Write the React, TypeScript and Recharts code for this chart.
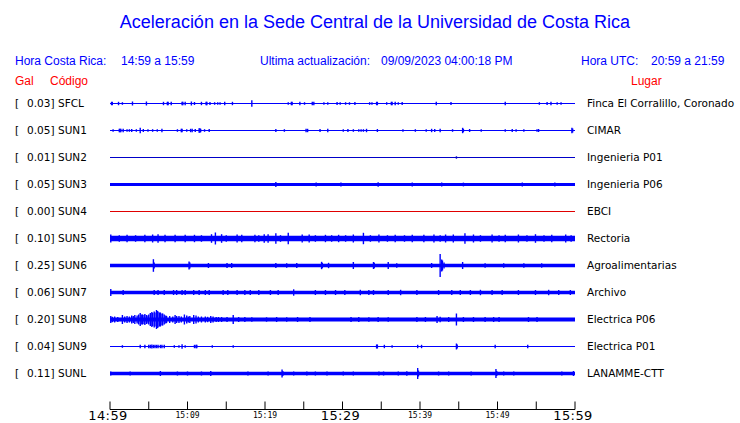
import { ComposedChart, Area, Scatter, ErrorBar, XAxis, YAxis } from "recharts";

// estaciones, de arriba hacia abajo
const stations = ["SFCL", "SUN1", "SUN2", "SUN3", "SUN4", "SUN5", "SUN6", "SUN7", "SUN8", "SUN9", "SUNL"];
const galValues = [0.03, 0.05, 0.01, 0.05, 0.0, 0.1, 0.25, 0.06, 0.2, 0.04, 0.11];
const places = [
  "Finca El Corralillo, Coronado",
  "CIMAR",
  "Ingenieria P01",
  "Ingenieria P06",
  "EBCI",
  "Rectoria",
  "Agroalimentarias",
  "Archivo",
  "Electrica P06",
  "Electrica P01",
  "LANAMME-CTT",
];

// minutos desde 14:59
const minuteTicks = [0, 5, 10, 15, 20, 25, 30, 35, 40, 45, 50, 55, 60];
const timeLabels = ["14:59", "15:04", "15:09", "15:14", "15:19", "15:24", "15:29", "15:34", "15:39", "15:44", "15:49", "15:54", "15:59"];

// semi-amplitud del ruido de fondo (px)
const baseAmp = [0.5, 0.5, 0.5, 1.6, 0.5, 2.7, 1.7, 1.8, 2.0, 0.5, 1.8];

// picos: [minuto, semi-amplitud]
const sfclSpikes = [[0.2,1.7],[0.3,1.7],[1.1,1.7],[1.6,1.3],[2.9,2],[4.7,2],[6.9,1.7],[7.4,1.7],[7.5,1.7],[7.9,1.7],[9.3,1.7],[9.4,1.7],[9.7,1.7],[10.5,2],[10.9,1.5],[11.8,1.7],[12.4,1.7],[12.5,1.7],[12.9,1.5],[13.5,1.3],[13.9,1.3],[14.2,1.3],[14.8,1.7],[15.8,1.7],[18.3,3.3],[23.0,1.3],[23.4,1.7],[23.5,1.7],[24.5,1.7],[25.1,1.3],[26.1,1.7],[26.3,1.7],[27.6,1.3],[28.1,1.3],[29.3,1.5],[29.7,1.3],[30.4,1.3],[30.9,1.3],[31.6,1.5],[33.5,1.3],[33.8,1.3],[34.4,1.7],[34.5,1.7],[35.7,1.3],[36.3,1.7],[36.4,1.7],[36.8,1.7],[37.2,1.3],[37.7,1.5],[42.1,1.7],[44.0,1.5],[51.0,1.7],[55.4,1.3],[56.4,1.5],[56.9,1.7],[57.7,1.3],[58.2,1.3]];
const sun1Spikes = [[0.4,1.3],[1.2,1.7],[1.3,1.7],[1.4,1.7],[1.7,1.7],[2.2,1.3],[2.5,1.3],[2.8,1.5],[3.4,1.3],[3.9,2.7],[4.3,1.5],[4.9,1.3],[5.5,1.3],[6.1,1.3],[6.7,1.7],[8.7,1.3],[9.2,1.7],[9.3,1.7],[9.9,1.3],[10.4,1.7],[10.6,1.7],[11.0,1.5],[11.5,2.3],[11.6,2.3],[11.7,1.7],[12.2,1.3],[12.8,1.5],[21.4,1.5],[22.5,1.3],[25.3,1.7],[25.5,1.7],[27.1,1.5],[28.1,1.7],[30.1,1.3],[30.7,1.5],[31.4,1.3],[32.1,1.3],[32.4,1.3],[32.7,1.3],[33.1,1.7],[34.5,1.5],[37.8,1.3],[39.4,1.3],[40.8,1.3],[41.5,1.7],[41.9,1.5],[42.6,1.7],[44.2,1.3],[45.5,2.7],[45.6,1.7],[46.4,1.5],[47.9,1.3],[51.0,1.3],[51.9,1.5],[52.4,1.3],[53.4,1.3],[55.1,1.3],[55.3,1.5],[59.6,2.7],[59.7,2]];
const sun2Spikes = [[44.7,1.2]];
const sun3Spikes = [[21.4,2.6],[26.6,1.9],[29.8,1.9],[34.6,2.3],[39.0,1.9],[42.8,1.9],[45.6,1.9],[53.2,1.9],[57.4,1.9]];
const sun4Spikes: number[][] = [];
const sun5Spikes = [[0.1,4],[1.2,3.3],[2.2,3.7],[3.3,3.3],[4.5,3.7],[5.5,4],[6.2,4.3],[7.1,3.7],[8.4,3.7],[9.7,3.7],[10.9,3.7],[11.8,3.3],[13.1,4.3],[13.6,6],[14.4,4.3],[15.0,3.3],[16.4,4],[17.0,3.7],[18.7,3.7],[19.2,3.3],[19.9,4.3],[20.4,4.3],[21.4,5.3],[22.0,3.3],[23.0,5.7],[24.8,4],[25.7,4],[26.5,3.3],[27.8,3.7],[28.6,3.3],[29.5,3.7],[30.4,3.3],[31.4,4],[32.7,5.7],[33.6,3.3],[34.7,4],[35.8,3.3],[36.8,3.7],[38.0,3.3],[39.0,3.7],[40.5,3.7],[41.8,4],[42.6,3.3],[43.3,4],[44.3,4],[45.8,5.3],[46.9,4],[47.8,3.3],[49.3,4],[50.2,3.3],[51.0,3.7],[52.7,4],[53.8,3.3],[54.9,4.3],[56.0,3.3],[57.0,3.7],[58.8,4],[59.5,3.3]];
const sun6Spikes = [[5.6,6.3],[5.7,3],[10.2,4],[10.3,3],[12.7,2.5],[15.1,2.5],[15.7,2.5],[21.4,2.5],[22.8,2.2],[24.1,2.5],[27.3,3.7],[27.4,2.7],[28.2,2.7],[31.4,3.5],[34.0,3.5],[34.1,2.7],[35.9,3.5],[37.0,2.2],[41.5,2.5],[42.6,11.5],[42.8,6],[42.9,5],[43.1,3],[45.5,3.5],[48.4,2.2],[50.8,2.2],[53.4,2.2],[55.7,2.2]];
const sun7Spikes = [[0.1,3.5],[1.7,2.5],[5.7,2.5],[6.2,2.5],[7.0,2.5],[8.2,2.5],[8.6,2.5],[9.3,2.5],[9.7,2.5],[10.8,2.5],[11.5,2.5],[12.3,2.5],[12.8,2.5],[14.6,2.5],[15.2,2.5],[16.4,2.5],[17.4,2.5],[18.1,2.5],[19.2,2.5],[20.7,2.5],[21.7,2.5],[23.7,3.2],[26.5,2.5],[27.8,2.5],[29.1,2.5],[30.3,2.5],[32.3,2.7],[33.4,2.5],[34.0,2.5],[35.9,2.5],[37.5,2.7],[39.6,2.5],[42.4,2.5],[44.1,2.5],[45.2,2.5],[46.5,2.5],[47.8,2.7],[49.3,2.5],[50.6,2.5],[52.7,2.5],[54.9,2.5],[56.6,2.7],[57.9,2.5],[59.4,2.5]];
const sun8Spikes = [[0.1,3.5],[0.3,2.7],[0.6,3],[1.0,2.5],[1.6,4.5],[1.9,3],[2.2,3.5],[2.5,3],[2.8,4],[3.0,3.5],[3.2,4.5],[3.5,4],[3.7,5],[3.9,6.5],[4.1,5],[4.2,5],[4.4,4.5],[4.5,5.5],[4.7,4.5],[4.9,4],[5.0,5],[5.2,6.5],[5.4,7.5],[5.5,6.5],[5.7,8],[5.8,7],[6.0,9.5],[6.1,8.5],[6.2,8],[6.4,7],[6.5,7],[6.7,6],[6.8,6],[7.0,5],[7.2,4],[7.3,3.5],[7.7,3.5],[8.1,3],[8.4,4.5],[8.6,3.5],[8.9,3.5],[9.2,3],[9.6,5],[9.9,4],[10.1,3],[10.3,3.5],[10.8,4.5],[11.1,4],[11.4,3],[11.8,3],[12.3,3],[12.6,2.7],[13.0,3.5],[13.3,3],[13.7,2.5],[14.0,2.5],[14.4,2.5],[15.1,2.5],[15.9,4.5],[16.6,2.5],[17.4,2.5],[18.3,2.2],[20.2,2.2],[21.5,2.5],[22.8,2.2],[24.2,2.5],[25.8,2.5],[31.1,2.5],[32.1,2.5],[33.4,2.2],[34.6,2.5],[35.9,2.2],[39.6,2.5],[40.7,2.5],[42.2,3.5],[42.6,2.8],[43.7,2.5],[44.7,6],[45.6,2.5],[46.9,2.5],[48.4,2.5],[49.5,2.5],[50.2,2.5],[54.0,2.5],[55.1,2.5]];
const sun9Spikes = [[1.6,1.3],[3.9,1.7],[4.5,1.7],[5.0,1.7],[5.2,1.7],[5.4,2],[5.6,1.7],[5.8,1.7],[6.0,1.7],[6.2,1.7],[6.5,1.7],[6.7,1.7],[7.0,1.7],[8.3,1.3],[8.9,1.3],[9.3,2.3],[9.7,1.3],[10.9,1.7],[11.1,1.7],[11.2,1.7],[13.2,1.3],[15.9,1.3],[34.4,2],[34.5,2],[35.4,1.7],[36.4,1.3],[39.7,1.7],[40.2,1.7],[44.7,3],[44.8,2],[49.7,1.7],[53.9,1.7]];
const sunlSpikes = [[0.1,2],[2.6,2],[6.5,2.5],[8.7,2],[10.0,2],[11.8,2],[13.0,2.5],[17.8,2],[20.4,2],[22.2,4],[22.3,2.5],[23.7,2],[25.4,2],[26.5,2],[28.0,2],[30.1,2],[31.4,2],[34.7,2],[35.3,2],[37.2,2],[38.3,2.2],[39.7,5.5],[39.8,3],[42.4,2],[43.7,2],[46.6,2],[49.8,4.5],[49.9,2.5],[50.8,2],[52.1,2],[58.3,2],[59.8,2.5]];

const allSpikes = [sfclSpikes, sun1Spikes, sun2Spikes, sun3Spikes, sun4Spikes, sun5Spikes, sun6Spikes, sun7Spikes, sun8Spikes, sun9Spikes, sunlSpikes];

// layout
const W = 740;
const H = 423;
const plotLeft = 110;
const plotRight = 575;
const plotTop = 88;
const axisY = 409.5;
const firstRow = 103.5;
const rowGap = 27;
const yMax = axisY - plotTop;

const BLUE = "#0000ff";
const RED = "#ff0000";
const traceColors = stations.map((s) => (s === "SUN4" ? "#e00000" : s === "SUN2" ? "#0000c8" : BLUE));

const centers = stations.map((_, i) => axisY - firstRow - rowGap * i);

const bandData = [0, 60].map((x) => {
  const row: Record<string, any> = { x };
  stations.forEach((s, i) => {
    row[s] = [centers[i] - baseAmp[i], centers[i] + baseAmp[i]];
  });
  return row;
});

const spikeData = allSpikes.map((list, i) => list.map(([x, e]) => ({ x, y: centers[i], e })));

const NoShape = () => <g />;

function TimeTick(props: any) {
  const { x, y, payload } = props;
  const i = minuteTicks.indexOf(payload.value);
  const major = i % 6 === 0;
  const labelled = i % 2 === 0;
  return (
    <g>
      <line x1={x} x2={x} y1={y} y2={y - 8} stroke="#000" />
      {labelled && (
        <text
          x={major ? x - 2 : x}
          y={major ? y + 10.5 : y + 8}
          textAnchor="middle"
          fontFamily={major ? "DejaVu Sans" : "DejaVu Sans Mono"}
          fontSize={major ? 13 : 8}
          letterSpacing={major ? 0.4 : 0}
          fill="#000"
        >
          {timeLabels[i]}
        </text>
      )}
    </g>
  );
}

function CodeTick(props: any) {
  const { y, payload } = props;
  const i = centers.indexOf(payload.value);
  if (i < 0) return <g />;
  return (
    <g fontFamily="DejaVu Sans" fontSize={10.5} fill="#000">
      <text x={15} y={y + 3.5}>[</text>
      <text x={27} y={y + 3.5}>{galValues[i].toFixed(2)}]</text>
      <text x={58} y={y + 3.5}>{stations[i]}</text>
    </g>
  );
}

function PlaceTick(props: any) {
  const { y, payload } = props;
  const i = centers.indexOf(payload.value);
  if (i < 0) return <g />;
  return (
    <text x={587} y={y + 3.5} fontFamily="DejaVu Sans" fontSize={10.5} fill="#000">
      {places[i]}
    </text>
  );
}

export default function App() {
  const head = { fontFamily: "Liberation Sans", fontSize: 12 };
  return (
    <div style={{ position: "absolute", left: 0, top: 0, width: W, height: H, background: "#fff" }}>
      <ComposedChart
        width={W}
        height={H}
        data={bandData}
        margin={{ top: plotTop, right: 0, bottom: 0, left: 15 }}
      >
        <XAxis
          dataKey="x"
          type="number"
          domain={[0, 60]}
          ticks={minuteTicks}
          interval={0}
          height={H - axisY}
          tickLine={false}
          tickSize={0}
          tickMargin={0}
          stroke="#000"
          tick={<TimeTick />}
          allowDataOverflow
        />
        <YAxis
          yAxisId="l"
          dataKey="y"
          type="number"
          domain={[0, yMax]}
          ticks={centers}
          interval={0}
          width={plotLeft - 15}
          axisLine={false}
          tickLine={false}
          tickSize={0}
          tickMargin={0}
          tick={<CodeTick />}
          allowDataOverflow
        />
        <YAxis
          yAxisId="r"
          orientation="right"
          dataKey="y"
          type="number"
          domain={[0, yMax]}
          ticks={centers}
          interval={0}
          width={W - plotRight}
          axisLine={false}
          tickLine={false}
          tickSize={0}
          tickMargin={0}
          tick={<PlaceTick />}
          allowDataOverflow
        />
        {stations.map((s, i) => (
          <Area
            key={"b" + s}
            yAxisId="l"
            dataKey={s}
            type="linear"
            stroke="none"
            fill={traceColors[i]}
            fillOpacity={1}
            isAnimationActive={false}
            dot={false}
            activeDot={false}
          />
        ))}
        {stations.map((s, i) => (
          <Scatter
            key={"s" + s}
            yAxisId="l"
            data={spikeData[i]}
            shape={<NoShape />}
            isAnimationActive={false}
          >
            <ErrorBar dataKey="e" direction="y" width={0} stroke={traceColors[i]} strokeWidth={1.4} isAnimationActive={false} />
          </Scatter>
        ))}
      </ComposedChart>
      <svg
        width={W}
        height={H}
        style={{ position: "absolute", left: 0, top: 0, pointerEvents: "none" }}
      >
        <text x={375} y={28} textAnchor="middle" fontFamily="Liberation Sans" fontSize={18} fill={BLUE}>
          Aceleración en la Sede Central de la Universidad de Costa Rica
        </text>
        <g fill={BLUE} {...head}>
          <text x={15} y={65}>Hora Costa Rica:</text>
          <text x={121} y={65}>14:59 a 15:59</text>
          <text x={260} y={65}>Ultima actualización:</text>
          <text x={381} y={65}>09/09/2023 04:00:18 PM</text>
          <text x={581} y={65}>Hora UTC:</text>
          <text x={651} y={65}>20:59 a 21:59</text>
        </g>
        <g fill={RED} {...head}>
          <text x={15} y={85}>Gal</text>
          <text x={50} y={85}>Código</text>
          <text x={631} y={85}>Lugar</text>
        </g>
      </svg>
    </div>
  );
}
